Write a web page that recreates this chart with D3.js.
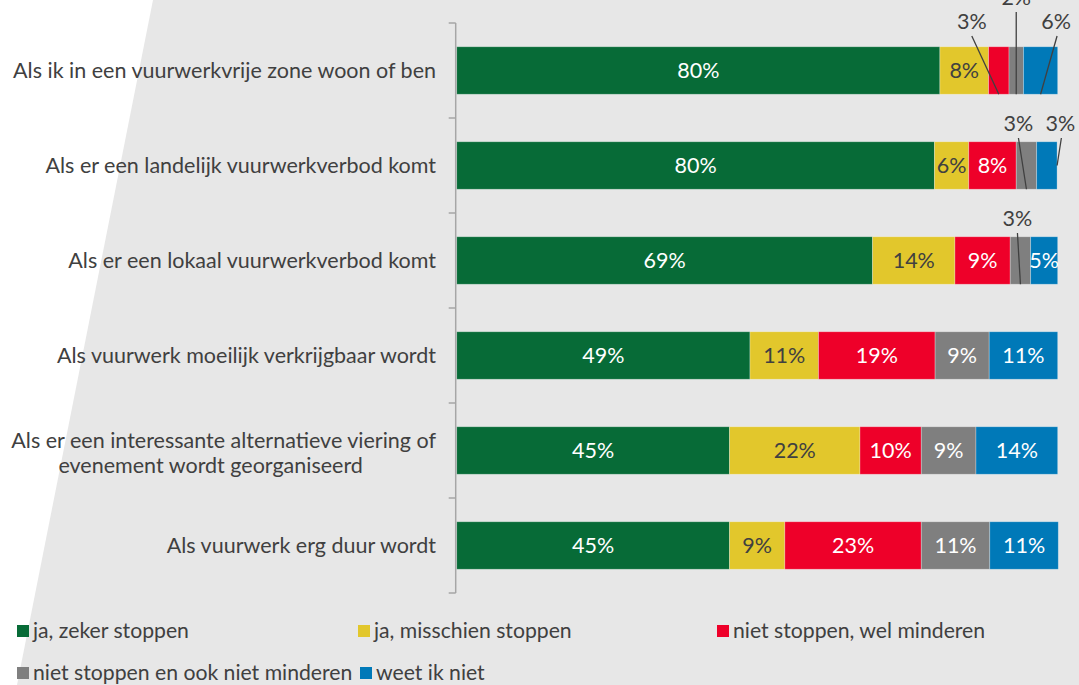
<!DOCTYPE html>
<html>
<head>
<meta charset="utf-8">
<script src="https://cdn.jsdelivr.net/npm/d3@7"></script>
<style>
  html, body { margin: 0; padding: 0; background: #ffffff; }
  svg { display: block; font-family: Lato, "Open Sans", sans-serif; }
</style>
</head>
<body>
<svg id="chart" width="1079" height="685"></svg>
<script>
// ---------- data ----------
const categories = [
  "Als ik in een vuurwerkvrije zone woon of ben",
  "Als er een landelijk vuurwerkverbod komt",
  "Als er een lokaal vuurwerkverbod komt",
  "Als vuurwerk moeilijk verkrijgbaar wordt",
  "Als er een interessante alternatieve viering of|evenement wordt georganiseerd",
  "Als vuurwerk erg duur wordt"
];
const seriesNames = [
  "ja, zeker stoppen",
  "ja, misschien stoppen",
  "niet stoppen, wel minderen",
  "niet stoppen en ook niet minderen",
  "weet ik niet"
];
const zekerStoppen     = [80.4, 79.5, 69.2, 48.8, 45.4, 45.4];
const misschienStoppen = [8.1, 5.7, 13.7, 11.4, 21.7, 9.2];
const welMinderen      = [3.4, 7.9, 9.2, 19.4, 10.2, 22.7];
const nietMinderen     = [2.4, 3.4, 3.4, 9.0, 9.1, 11.4];
const weetNiet         = [5.7, 3.4, 4.5, 11.4, 13.6, 11.4];

// ---------- styling / layout ----------
const colors = ["#076b37", "#e2c72c", "#ee0029", "#7f7f7f", "#0079b8"];
const labelColors = ["#ffffff", "#404040", "#ffffff", "#ffffff", "#ffffff"];
const textColor = "#404040";
const fontSize = 21.5;
// callout labels: [row, series, dx, dy (from segment centre / bar centre), end type]
const callouts = [
  [0, 2, -27, -49.5, "bottom"],
  [0, 3, 0, -73.5, "bottom"],
  [0, 4, 15.5, -49.5, "bottom"],
  [1, 3, -8, -42.5, "bottom"],
  [1, 4, 13.5, -42.5, "right"],
  [2, 3, -3, -42.5, "bottom"]
];

const svg = d3.select("#chart");
const W = 1079, H = 685;

// background shape
svg.append("rect").attr("width", W).attr("height", H).attr("fill", "#ffffff");
svg.append("polygon")
  .attr("points", [[153, 0], [W, 0], [W, H], [17, H]].map(p => p.join(",")).join(" "))
  .attr("fill", "#e7e7e7");

const margin = { left: 456.7, right: 21.3, top: 23, bottom: 92 };
const x = d3.scaleLinear().domain([0, 100]).range([margin.left, W - margin.right]);
const y = d3.scaleBand().domain(d3.range(categories.length))
  .range([margin.top, H - margin.bottom]).paddingInner(0.5).paddingOuter(0.25);
const yOuter = d3.scaleBand().domain(d3.range(categories.length))
  .range([margin.top, H - margin.bottom]);

const seriesData = [zekerStoppen, misschienStoppen, welMinderen, nietMinderen, weetNiet];
const rows = categories.map((c, i) => {
  const o = { idx: i };
  seriesData.forEach((s, k) => { o["s" + k] = s[i]; });
  return o;
});
const stack = d3.stack().keys(seriesNames.map((_, k) => "s" + k));
const stacked = stack(rows);

// bars
const gBars = svg.append("g");
stacked.forEach((layer, k) => {
  gBars.selectAll(null).data(layer).enter().append("rect")
    .attr("x", d => x(d[0]))
    .attr("y", d => y(d.data.idx))
    .attr("width", d => x(d[1]) - x(d[0]))
    .attr("height", y.bandwidth())
    .attr("fill", colors[k])
    .attr("stroke", "rgba(255,255,255,0.35)")
    .attr("stroke-width", 0.8);
});

// axis (vertical category axis with ticks between categories)
const axisX = margin.left - 1;
const gAxis = svg.append("g");
gAxis.append("line")
  .attr("x1", axisX).attr("x2", axisX)
  .attr("y1", margin.top).attr("y2", H - margin.bottom)
  .attr("stroke", "#a6a6a6").attr("stroke-width", 1.5);
const tickYs = d3.range(categories.length + 1).map(i =>
  i < categories.length ? yOuter(i) : yOuter(i - 1) + yOuter.bandwidth());
gAxis.selectAll(null).data(tickYs).enter().append("line")
  .attr("x1", axisX - 7).attr("x2", axisX)
  .attr("y1", d => d).attr("y2", d => d)
  .attr("stroke", "#a6a6a6").attr("stroke-width", 1.5);

// category labels
const gCat = svg.append("g").attr("font-size", fontSize).attr("fill", textColor);
categories.forEach((c, i) => {
  const lines = c.split("|");
  const cy = y(i) + y.bandwidth() / 2;
  if (lines.length === 1) {
    gCat.append("text").attr("x", 436).attr("y", cy).attr("dy", "0.35em")
      .attr("text-anchor", "end").text(c);
  } else {
    const t1 = gCat.append("text").attr("x", 436).attr("y", cy - 10.5).attr("dy", "0.35em")
      .attr("text-anchor", "end").text(lines[0]);
    const w1 = t1.node().getComputedTextLength();
    gCat.append("text").attr("x", 436 - w1 / 2 - 13).attr("y", cy + 14.5).attr("dy", "0.35em")
      .attr("text-anchor", "middle").text(lines[1]);
  }
});

// data labels
const isCallout = (r, k) => callouts.some(c => c[0] === r && c[1] === k);
const gLab = svg.append("g").attr("font-size", fontSize).attr("text-anchor", "middle");
stacked.forEach((layer, k) => {
  layer.forEach(d => {
    const r = d.data.idx;
    const cx = (x(d[0]) + x(d[1])) / 2;
    const cy = y(r) + y.bandwidth() / 2;
    const lab = Math.round(d[1] - d[0]) + "%";
    if (!isCallout(r, k)) {
      gLab.append("text").attr("x", cx).attr("y", cy).attr("dy", "0.35em")
        .attr("fill", labelColors[k]).text(lab);
    }
  });
});
callouts.forEach(([r, k, dx, dy, end]) => {
  const d = stacked[k][r];
  const cx = (x(d[0]) + x(d[1])) / 2;
  const cy = y(r) + y.bandwidth() / 2;
  const lx = cx + dx, ly = cy + dy;
  let ex, ey;
  if (end === "right") { ex = x(d[1]); ey = cy; }
  else { ex = cx; ey = y(r) + y.bandwidth(); }
  gLab.append("line").attr("x1", lx + (dx > 0 ? 1 : 0)).attr("y1", ly + 15)
    .attr("x2", ex).attr("y2", ey)
    .attr("stroke", textColor).attr("stroke-width", 1.3);
  gLab.append("text").attr("x", lx).attr("y", ly).attr("dy", "0.35em")
    .attr("fill", textColor).text(Math.round(d[1] - d[0]) + "%");
});

// legend
const legendPos = [[17, 631], [358, 631], [717, 631], [17, 673], [360, 673]];
const gLeg = svg.append("g").attr("font-size", 21.2).attr("fill", textColor);
seriesNames.forEach((n, k) => {
  const [lx, ly] = legendPos[k];
  gLeg.append("rect").attr("x", lx).attr("y", ly - 6).attr("width", 12).attr("height", 12)
    .attr("fill", colors[k]);
  gLeg.append("text").attr("x", lx + 16).attr("y", ly).attr("dy", "0.35em").text(n);
});
</script>
</body>
</html>
